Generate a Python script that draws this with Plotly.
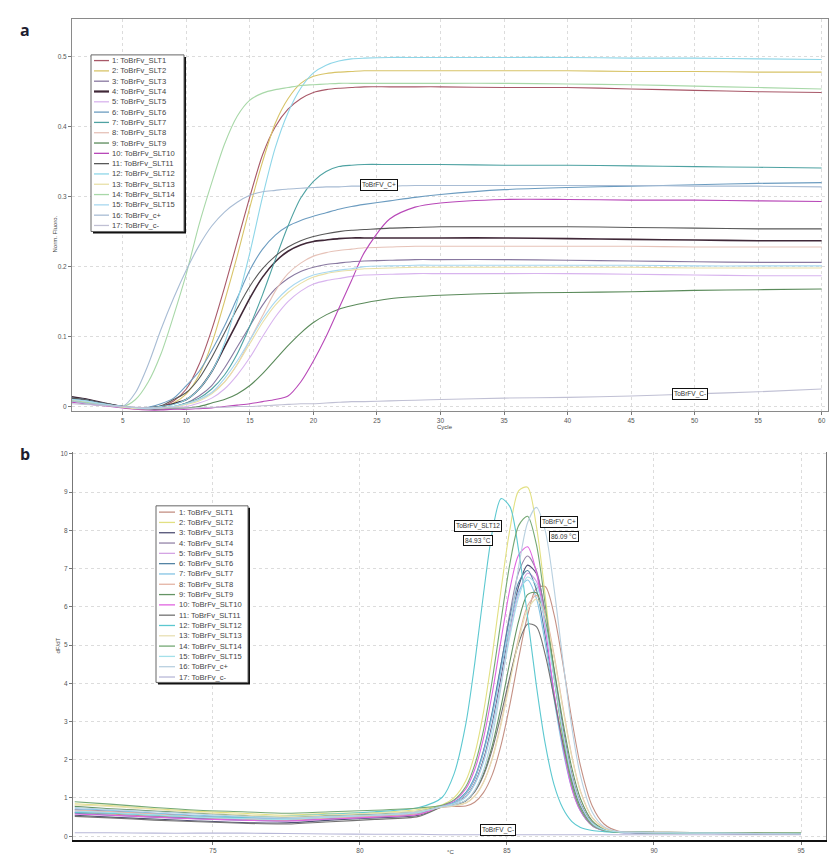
import plotly.graph_objects as go

W, H = 837, 854

# ---------------- data: panel a (amplification) ----------------
cycles = [1, 2, 3, 4, 5, 6, 7, 8, 9, 10, 11, 12, 13, 14, 15, 16, 17, 18, 19, 20,
          21, 22, 23, 24, 26, 28, 30, 35, 40, 45, 50, 55, 60]

names = ["1: ToBrFv_SLT1", "2: ToBrFv_SLT2", "3: ToBrFv_SLT3", "4: ToBrFv_SLT4",
         "5: ToBrFv_SLT5", "6: ToBrFv_SLT6", "7: ToBrFv_SLT7", "8: ToBrFv_SLT8",
         "9: ToBrFv_SLT9", "10: ToBrFv_SLT10", "11: ToBrFv_SLT11", "12: ToBrFv_SLT12",
         "13: ToBrFv_SLT13", "14: ToBrFv_SLT14", "15: ToBrFv_SLT15", "16: ToBrFv_c+",
         "17: ToBrFv_c-"]

amp_slt1 = [0.012, 0.009, 0.006, 0.003, 0.0, -0.002, -0.002, 0.0, 0.008, 0.025, 0.06, 0.11, 0.17, 0.235, 0.30, 0.36, 0.40, 0.425, 0.44, 0.449, 0.453, 0.455, 0.456, 0.457, 0.457, 0.457, 0.457, 0.456, 0.456, 0.454, 0.452, 0.45, 0.449]
amp_slt2 = [0.01, 0.008, 0.005, 0.002, 0.0, -0.002, -0.002, -0.001, 0.005, 0.018, 0.045, 0.09, 0.15, 0.215, 0.285, 0.35, 0.405, 0.44, 0.462, 0.472, 0.476, 0.478, 0.479, 0.48, 0.48, 0.48, 0.48, 0.48, 0.48, 0.479, 0.479, 0.478, 0.478]
amp_slt3 = [0.01, 0.008, 0.005, 0.002, 0.0, -0.002, -0.003, -0.002, 0.0, 0.005, 0.015, 0.03, 0.055, 0.085, 0.115, 0.145, 0.168, 0.183, 0.193, 0.199, 0.203, 0.205, 0.207, 0.208, 0.209, 0.21, 0.21, 0.21, 0.209, 0.208, 0.207, 0.206, 0.206]
amp_slt4 = [0.014, 0.011, 0.007, 0.003, 0.0, -0.002, -0.002, 0.0, 0.004, 0.01, 0.025, 0.05, 0.085, 0.12, 0.155, 0.185, 0.207, 0.222, 0.231, 0.236, 0.238, 0.24, 0.241, 0.241, 0.241, 0.241, 0.241, 0.241, 0.24, 0.239, 0.238, 0.237, 0.237]
amp_slt5 = [0.008, 0.006, 0.004, 0.001, -0.001, -0.003, -0.004, -0.003, -0.002, 0.0, 0.005, 0.012, 0.025, 0.045, 0.07, 0.1, 0.128, 0.15, 0.165, 0.175, 0.18, 0.183, 0.186, 0.188, 0.189, 0.19, 0.19, 0.19, 0.19, 0.189, 0.188, 0.187, 0.187]
amp_slt6 = [0.012, 0.01, 0.006, 0.003, 0.0, -0.002, -0.001, 0.004, 0.012, 0.03, 0.05, 0.08, 0.115, 0.155, 0.195, 0.225, 0.245, 0.258, 0.266, 0.272, 0.277, 0.282, 0.286, 0.289, 0.294, 0.299, 0.303, 0.31, 0.313, 0.315, 0.317, 0.319, 0.32]
amp_slt7 = [0.01, 0.008, 0.005, 0.002, 0.0, -0.002, -0.003, -0.003, -0.001, 0.005, 0.012, 0.025, 0.045, 0.075, 0.115, 0.16, 0.21, 0.258, 0.298, 0.322, 0.336, 0.343, 0.345, 0.346, 0.346, 0.346, 0.346, 0.345, 0.345, 0.344, 0.343, 0.342, 0.341]
amp_slt8 = [0.009, 0.007, 0.004, 0.001, -0.001, -0.003, -0.004, -0.003, -0.001, 0.004, 0.01, 0.02, 0.035, 0.06, 0.095, 0.13, 0.165, 0.19, 0.205, 0.215, 0.22, 0.223, 0.225, 0.227, 0.228, 0.229, 0.229, 0.229, 0.229, 0.229, 0.228, 0.228, 0.228]
amp_slt9 = [0.008, 0.006, 0.004, 0.001, -0.001, -0.003, -0.004, -0.004, -0.003, -0.002, 0.0, 0.005, 0.01, 0.018, 0.03, 0.047, 0.067, 0.087, 0.105, 0.12, 0.131, 0.139, 0.144, 0.148, 0.154, 0.157, 0.159, 0.162, 0.163, 0.164, 0.166, 0.167, 0.168]
amp_slt10 = [0.006, 0.004, 0.002, 0.0, -0.002, -0.004, -0.005, -0.005, -0.004, -0.004, -0.003, -0.002, 0.0, 0.002, 0.004, 0.007, 0.01, 0.015, 0.035, 0.065, 0.1, 0.14, 0.18, 0.22, 0.268, 0.285, 0.291, 0.296, 0.296, 0.295, 0.295, 0.294, 0.293]
amp_slt11 = [0.012, 0.01, 0.006, 0.003, 0.0, -0.002, -0.002, 0.001, 0.01, 0.02, 0.04, 0.07, 0.105, 0.14, 0.172, 0.197, 0.215, 0.228, 0.237, 0.243, 0.247, 0.25, 0.252, 0.253, 0.255, 0.256, 0.257, 0.257, 0.257, 0.256, 0.255, 0.254, 0.254]
amp_slt12 = [0.01, 0.008, 0.005, 0.002, 0.0, -0.002, -0.002, 0.0, 0.003, 0.01, 0.025, 0.05, 0.09, 0.15, 0.22, 0.3, 0.37, 0.42, 0.455, 0.477, 0.488, 0.494, 0.497, 0.498, 0.499, 0.499, 0.499, 0.499, 0.499, 0.498, 0.498, 0.497, 0.496]
amp_slt13 = [0.009, 0.007, 0.004, 0.001, -0.001, -0.003, -0.003, -0.002, 0.0, 0.003, 0.008, 0.018, 0.035, 0.06, 0.09, 0.12, 0.145, 0.163, 0.176, 0.185, 0.19, 0.193, 0.195, 0.197, 0.198, 0.199, 0.199, 0.199, 0.199, 0.199, 0.198, 0.198, 0.198]
amp_slt14 = [0.008, 0.006, 0.004, 0.002, 0.0, 0.01, 0.035, 0.075, 0.13, 0.19, 0.26, 0.32, 0.375, 0.415, 0.438, 0.448, 0.453, 0.456, 0.459, 0.46, 0.461, 0.462, 0.462, 0.462, 0.462, 0.462, 0.462, 0.462, 0.461, 0.46, 0.458, 0.456, 0.454]
amp_slt15 = [0.01, 0.008, 0.005, 0.002, 0.0, -0.002, -0.003, -0.002, 0.0, 0.004, 0.01, 0.02, 0.04, 0.065, 0.095, 0.125, 0.15, 0.168, 0.18, 0.188, 0.192, 0.195, 0.197, 0.2, 0.201, 0.202, 0.202, 0.202, 0.202, 0.202, 0.201, 0.201, 0.201]
amp_cpos = [0.008, 0.005, 0.003, 0.001, 0.0, 0.02, 0.06, 0.11, 0.155, 0.195, 0.23, 0.258, 0.278, 0.292, 0.302, 0.307, 0.309, 0.311, 0.312, 0.313, 0.314, 0.314, 0.315, 0.315, 0.315, 0.316, 0.316, 0.316, 0.316, 0.316, 0.315, 0.315, 0.314]
amp_cneg = [0.004, 0.003, 0.002, 0.001, 0.0, -0.001, -0.002, -0.002, -0.002, -0.002, -0.002, -0.001, -0.001, 0.0, 0.0, 0.001, 0.002, 0.003, 0.004, 0.004, 0.005, 0.006, 0.007, 0.007, 0.008, 0.009, 0.01, 0.012, 0.013, 0.015, 0.018, 0.021, 0.025]

amp_series = [amp_slt1, amp_slt2, amp_slt3, amp_slt4, amp_slt5, amp_slt6, amp_slt7,
              amp_slt8, amp_slt9, amp_slt10, amp_slt11, amp_slt12, amp_slt13,
              amp_slt14, amp_slt15, amp_cpos, amp_cneg]

colors_a = ["#a85868", "#d8c468", "#8878a0", "#402838", "#d8b4ee", "#6c9cc0",
            "#4ea2a2", "#e6c2b8", "#5a8a5a", "#b848b8", "#585858", "#8ed6e8",
            "#e8e0a8", "#a8d8a8", "#a8d8f0", "#a8bcd4", "#c0c0d4"]

# ---------------- data: panel b (melt curves) ----------------
temps = [70.3, 71.5, 73.0, 74.5, 76.0, 77.5, 79.0, 80.5, 82.0, 82.8, 83.2, 83.6, 83.9,
         84.2, 84.5, 84.8, 85.1, 85.4, 85.7, 86.0, 86.3, 86.6, 86.9, 87.2, 87.5, 87.9,
         88.3, 88.8, 89.5, 90.5, 92.0, 93.5, 95.0]

melt_slt1 = [0.62, 0.58, 0.52, 0.48, 0.45, 0.42, 0.48, 0.52, 0.6, 0.76, 0.78, 0.79, 0.89, 1.14, 1.61, 2.39, 3.45, 4.67, 5.77, 6.48, 6.53, 5.8, 4.52, 3.07, 1.84, 0.79, 0.32, 0.13, 0.11, 0.1, 0.09, 0.08, 0.07]
melt_slt2 = [0.85, 0.8, 0.72, 0.65, 0.6, 0.55, 0.6, 0.62, 0.7, 0.82, 1.01, 1.45, 2.14, 3.24, 4.74, 6.46, 8.03, 9.04, 9.13, 8.11, 6.29, 4.27, 2.56, 1.36, 0.68, 0.27, 0.15, 0.11, 0.1, 0.09, 0.08, 0.07, 0.06]
melt_slt3 = [0.55, 0.5, 0.45, 0.4, 0.36, 0.35, 0.42, 0.48, 0.55, 0.78, 0.85, 1.04, 1.38, 2.0, 2.94, 4.15, 5.46, 6.54, 7.09, 6.87, 5.83, 4.34, 2.84, 1.63, 0.86, 0.35, 0.17, 0.11, 0.09, 0.08, 0.07, 0.06, 0.05]
melt_slt4 = [0.7, 0.66, 0.6, 0.52, 0.48, 0.45, 0.5, 0.55, 0.62, 0.79, 0.88, 1.11, 1.49, 2.21, 3.21, 4.49, 5.84, 6.91, 7.33, 6.95, 5.78, 4.21, 2.72, 1.5, 0.78, 0.32, 0.16, 0.11, 0.1, 0.09, 0.08, 0.07, 0.06]
melt_slt5 = [0.65, 0.62, 0.56, 0.5, 0.47, 0.45, 0.5, 0.55, 0.6, 0.78, 0.85, 1.03, 1.36, 1.95, 2.86, 4.04, 5.31, 6.35, 6.88, 6.67, 5.66, 4.21, 2.76, 1.59, 0.84, 0.34, 0.17, 0.11, 0.1, 0.09, 0.08, 0.07, 0.06]
melt_slt6 = [0.6, 0.55, 0.5, 0.46, 0.42, 0.4, 0.46, 0.5, 0.58, 0.79, 0.89, 1.14, 1.54, 2.24, 3.26, 4.51, 5.74, 6.64, 6.95, 6.45, 5.23, 3.72, 2.35, 1.31, 0.68, 0.28, 0.15, 0.1, 0.09, 0.08, 0.07, 0.07, 0.06]
melt_slt7 = [0.72, 0.68, 0.6, 0.55, 0.5, 0.46, 0.52, 0.56, 0.64, 0.79, 0.88, 1.12, 1.51, 2.18, 3.16, 4.35, 5.54, 6.41, 6.7, 6.22, 5.04, 3.59, 2.26, 1.26, 0.66, 0.28, 0.15, 0.1, 0.1, 0.09, 0.08, 0.07, 0.07]
melt_slt8 = [0.68, 0.64, 0.58, 0.5, 0.46, 0.42, 0.48, 0.52, 0.58, 0.76, 0.8, 0.87, 1.05, 1.41, 2.04, 2.97, 4.09, 5.21, 6.03, 6.3, 5.84, 4.75, 3.39, 2.12, 1.18, 0.49, 0.22, 0.11, 0.1, 0.09, 0.08, 0.07, 0.06]
melt_slt9 = [0.78, 0.72, 0.66, 0.6, 0.55, 0.5, 0.55, 0.58, 0.66, 0.77, 0.82, 0.93, 1.17, 1.63, 2.37, 3.4, 4.57, 5.64, 6.32, 6.37, 5.65, 4.39, 3.0, 1.8, 0.98, 0.4, 0.19, 0.11, 0.11, 0.1, 0.09, 0.08, 0.08]
melt_slt10 = [0.58, 0.55, 0.5, 0.45, 0.42, 0.4, 0.45, 0.5, 0.57, 0.8, 0.93, 1.24, 1.74, 2.56, 3.74, 5.14, 6.47, 7.36, 7.57, 6.9, 5.47, 3.77, 2.38, 1.26, 0.66, 0.28, 0.15, 0.1, 0.09, 0.08, 0.07, 0.06, 0.06]
melt_slt11 = [0.52, 0.48, 0.42, 0.38, 0.34, 0.32, 0.38, 0.44, 0.52, 0.77, 0.82, 0.93, 1.16, 1.59, 2.27, 3.18, 4.18, 5.06, 5.55, 5.48, 4.75, 3.63, 2.44, 1.45, 0.78, 0.33, 0.17, 0.11, 0.09, 0.08, 0.07, 0.06, 0.05]
melt_slt12 = [0.62, 0.6, 0.55, 0.5, 0.5, 0.52, 0.58, 0.64, 0.75, 1.02, 1.63, 2.94, 4.5, 6.33, 7.96, 8.83, 8.62, 7.46, 5.74, 3.94, 2.42, 1.35, 0.73, 0.39, 0.23, 0.15, 0.12, 0.1, 0.09, 0.08, 0.07, 0.06, 0.05]
melt_slt13 = [0.82, 0.78, 0.7, 0.62, 0.56, 0.52, 0.56, 0.6, 0.66, 0.76, 0.8, 0.87, 1.04, 1.4, 2.02, 2.92, 4.03, 5.13, 5.93, 6.2, 5.75, 4.67, 3.33, 2.09, 1.16, 0.48, 0.21, 0.11, 0.1, 0.09, 0.08, 0.07, 0.06]
melt_slt14 = [0.9, 0.84, 0.75, 0.68, 0.64, 0.6, 0.64, 0.68, 0.74, 0.81, 0.95, 1.3, 1.86, 2.77, 4.09, 5.65, 7.13, 8.13, 8.37, 7.63, 6.05, 4.16, 2.62, 1.38, 0.71, 0.29, 0.15, 0.1, 0.1, 0.09, 0.09, 0.08, 0.08]
melt_slt15 = [0.66, 0.62, 0.56, 0.5, 0.46, 0.44, 0.5, 0.55, 0.62, 0.78, 0.85, 1.02, 1.35, 1.93, 2.83, 3.99, 5.23, 6.26, 6.78, 6.57, 5.57, 4.15, 2.72, 1.57, 0.83, 0.34, 0.17, 0.11, 0.1, 0.09, 0.08, 0.07, 0.06]
melt_cpos = [0.75, 0.7, 0.64, 0.58, 0.52, 0.48, 0.52, 0.56, 0.64, 0.77, 0.82, 0.94, 1.2, 1.72, 2.62, 3.91, 5.49, 7.05, 8.2, 8.6, 7.99, 6.49, 4.61, 2.87, 1.58, 0.63, 0.25, 0.12, 0.1, 0.09, 0.08, 0.07, 0.06]
melt_cneg = [0.09, 0.09, 0.08, 0.08, 0.08, 0.07, 0.06, 0.05, 0.05, 0.04, 0.04, 0.04, 0.04, 0.04, 0.04, 0.04, 0.04, 0.04, 0.04, 0.04, 0.04, 0.04, 0.04, 0.04, 0.04, 0.04, 0.04, 0.04, 0.04, 0.04, 0.04, 0.04, 0.04]

melt_series = [melt_slt1, melt_slt2, melt_slt3, melt_slt4, melt_slt5, melt_slt6,
               melt_slt7, melt_slt8, melt_slt9, melt_slt10, melt_slt11, melt_slt12,
               melt_slt13, melt_slt14, melt_slt15, melt_cpos, melt_cneg]

colors_b = ["#c49084", "#e2e082", "#505074", "#9484a8", "#d4a4e4", "#5484a4",
            "#84c4e4", "#e4b4a4", "#649464", "#e064e0", "#727272", "#5cc8d0",
            "#e8e0b4", "#74a874", "#a4e0ea", "#b8d0e0", "#b8b8d8"]

# ---------------- figure ----------------
FONT = "Liberation Sans, Arial, sans-serif"
fig = go.Figure()

for nm, ys, col in zip(names, amp_series, colors_a):
    fig.add_trace(go.Scatter(x=cycles, y=ys, mode="lines", name=nm,
                             line=dict(color=col, width=1.6 if "SLT4" in nm else 1.1,
                                       shape="spline", smoothing=0.8),
                             xaxis="x", yaxis="y", showlegend=False))

for nm, ys, col in zip(names, melt_series, colors_b):
    fig.add_trace(go.Scatter(x=temps, y=ys, mode="lines", name=nm,
                             line=dict(color=col, width=1.1, shape="spline", smoothing=0.8),
                             xaxis="x2", yaxis="y2", showlegend=False))


def px(x):
    return x / W


def py(y):
    return 1 - y / H


axis_common = dict(showgrid=True, gridcolor="#dcdcdc", griddash="dot", gridwidth=1,
                   zeroline=False, ticks="outside", ticklen=3, tickcolor="#777",
                   tickfont=dict(family=FONT, size=6.5, color="#555"))

fig.update_layout(
    width=W, height=H, margin=dict(l=0, r=0, t=0, b=0),
    paper_bgcolor="white", plot_bgcolor="white",
    font=dict(family=FONT),
    xaxis=dict(domain=[px(64), px(820)], anchor="y", range=[1, 60.5],
               tickvals=list(range(5, 61, 5)), showline=True, mirror=True,
               linecolor="#8a8a8a", linewidth=1, **axis_common),
    yaxis=dict(domain=[py(402), py(9)], anchor="x", range=[-0.0065, 0.554],
               tickvals=[0, 0.1, 0.2, 0.3, 0.4, 0.5],
               ticktext=["0", "0.1", "0.2", "0.3", "0.4", "0.5"],
               showline=True, mirror=True, linecolor="#8a8a8a", linewidth=1,
               **axis_common),
    xaxis2=dict(domain=[px(65), px(818)], anchor="y2", range=[70.24, 95.85],
                tickvals=[75, 80, 85, 90, 95], showline=True, mirror=False,
                linecolor="#111", linewidth=2, **axis_common),
    yaxis2=dict(domain=[py(832), py(443)], anchor="x2", range=[-0.1, 10.05],
                tickvals=list(range(0, 11)), showline=True, mirror=True,
                linecolor="#777", linewidth=1, **axis_common),
)

shapes = []
annotations = []

# panel labels
annotations.append(dict(text="<b>a</b>", xref="paper", yref="paper", x=px(10), y=py(20),
                        xanchor="left", yanchor="middle", showarrow=False,
                        font=dict(family="Open Sans, sans-serif", size=16, color="#1e1e30")))
annotations.append(dict(text="<b>b</b>", xref="paper", yref="paper", x=px(10), y=py(445),
                        xanchor="left", yanchor="middle", showarrow=False,
                        font=dict(family="Open Sans, sans-serif", size=16, color="#1e1e30")))

# axis titles
axis_titles = [("Cycle", 437, 418, 0), ("Norm. Fluoro.", 47, 225, -90),
               ("°C", 442, 844, 0), ("dF/dT", 50, 637, -90)]
for txt, xx, yy, ang in axis_titles:
    annotations.append(dict(text=txt, xref="paper", yref="paper", x=px(xx), y=py(yy),
                            xanchor="center", yanchor="middle", showarrow=False, textangle=ang,
                            font=dict(family=FONT, size=6, color="#444")))


def add_legend(left, top, right, bottom, first_y, step, line_x0, line_x1, text_x, cols, thick4):
    shapes.append(dict(type="rect", xref="paper", yref="paper",
                       x0=px(left + 2), x1=px(right + 2), y0=py(bottom + 2), y1=py(top + 2),
                       fillcolor="#111", line=dict(width=0), layer="above"))
    shapes.append(dict(type="rect", xref="paper", yref="paper",
                       x0=px(left), x1=px(right), y0=py(bottom), y1=py(top),
                       fillcolor="white", line=dict(color="#666", width=1), layer="above"))
    for i, (nm, col) in enumerate(zip(names, cols)):
        yy = first_y + i * step
        w = 2.2 if (thick4 and i == 3) else 1.3
        shapes.append(dict(type="line", xref="paper", yref="paper",
                           x0=px(line_x0), x1=px(line_x1), y0=py(yy), y1=py(yy),
                           line=dict(color=col, width=w), layer="above"))
        annotations.append(dict(text=nm, xref="paper", yref="paper", x=px(text_x), y=py(yy),
                                xanchor="left", yanchor="middle", showarrow=False,
                                font=dict(family=FONT, size=7.6, color="#444")))


add_legend(83, 45, 176, 222, 50.7, 10.33, 86, 101, 102, colors_a, True)
add_legend(148, 497, 240, 674, 503.3, 10.33, 151, 167, 169, colors_b, False)


def box_label(text, x, y, xref, yref):
    annotations.append(dict(text=text, xref=xref, yref=yref, x=x, y=y, showarrow=False,
                            bgcolor="white", bordercolor="#111", borderwidth=1, borderpad=1,
                            font=dict(family=FONT, size=6.5, color="#333")))


box_label("ToBrFV_C+", 25.2, 0.317, "x", "y")
box_label("ToBrFV_C-", 49.6, 0.018, "x", "y")
box_label("ToBrFV_SLT12", 84.01, 8.12, "x2", "y2")
box_label("84.93 °C", 84.01, 7.74, "x2", "y2")
box_label("ToBrFV_C+", 86.77, 8.22, "x2", "y2")
box_label("86.09 °C", 86.94, 7.84, "x2", "y2")
box_label("ToBrFV_C-", 84.7, 0.15, "x2", "y2")

fig.update_layout(shapes=shapes, annotations=annotations)

fig.write_html("out.html")
